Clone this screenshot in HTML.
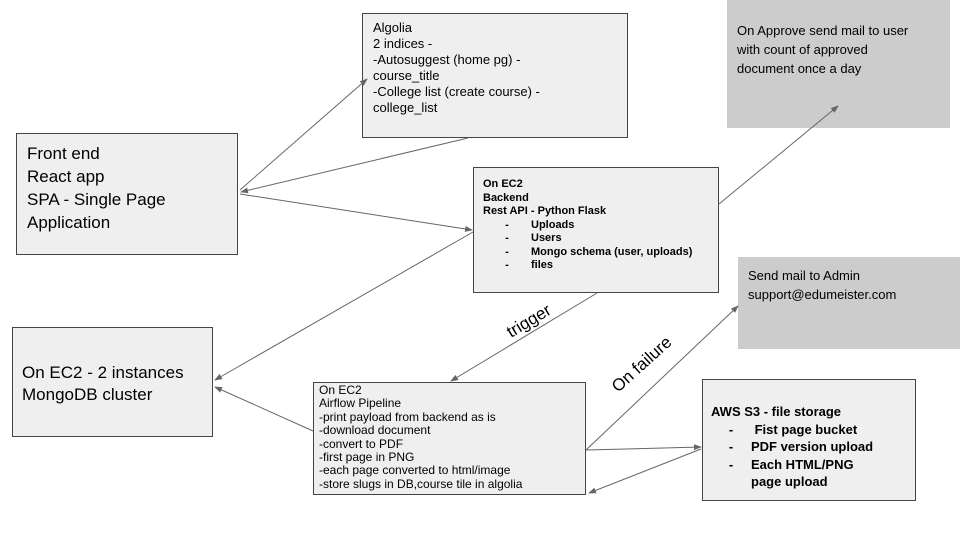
<!DOCTYPE html>
<html><head><meta charset="utf-8"><style>
body{margin:0;width:960px;height:540px;background:#fff;position:relative;overflow:hidden;font-family:"Liberation Sans",Arial,sans-serif;color:#000}
.b{position:absolute;background:#efefef;border:1px solid #444;box-sizing:border-box;white-space:nowrap}
.g{position:absolute;background:#cccccc;box-sizing:border-box}
svg{position:absolute;left:0;top:0}
</style></head><body>
<div class="b" style="left:362px;top:13px;width:266px;height:125px;font-size:13px;line-height:16px;padding:6px 0 0 10px">Algolia<br>2 indices -<br>-Autosuggest (home pg) -<br>course_title<br>-College list (create course) -<br>college_list</div>
<div class="b" style="left:16px;top:133px;width:222px;height:122px;font-size:17px;line-height:23px;padding:8px 0 0 10px">Front end<br>React app<br>SPA - Single Page<br>Application</div>
<div class="b" style="left:473px;top:167px;width:246px;height:126px;font-size:11px;line-height:13.5px;font-weight:bold;padding:10px 0 0 9px">On EC2<br>Backend<br>Rest API - Python Flask<br><span style="display:inline-block;width:48px;text-align:center">-</span>Uploads<br><span style="display:inline-block;width:48px;text-align:center">-</span>Users<br><span style="display:inline-block;width:48px;text-align:center">-</span>Mongo schema (user, uploads)<br><span style="display:inline-block;width:48px;text-align:center">-</span>files</div>
<div class="g" style="left:727px;top:0;width:223px;height:128px;font-size:13px;line-height:19px;padding:21px 0 0 10px">On Approve send mail to user<br>with count of approved<br>document once a day</div>
<div class="g" style="left:738px;top:257px;width:222px;height:92px;font-size:13px;line-height:19px;padding:9px 0 0 10px">Send mail to Admin<br>support@edumeister.com</div>
<div class="b" style="left:12px;top:327px;width:201px;height:110px;font-size:17px;line-height:22px;padding:34px 0 0 9px">On EC2 - 2 instances<br>MongoDB cluster</div>
<div class="b" style="left:313px;top:382px;width:273px;height:113px;font-size:12px;line-height:13.4px;padding:1px 0 0 5px">On EC2<br>Airflow Pipeline<br>-print payload from backend as is<br>-download document<br>-convert to PDF<br>-first page in PNG<br>-each page converted to html/image<br>-store slugs in DB,course tile in algolia</div>
<div class="b" style="left:702px;top:379px;width:214px;height:122px;font-size:13px;line-height:17.5px;font-weight:bold;padding:23px 0 0 8px">AWS S3 - file storage<br><span style="display:inline-block;width:40px;text-align:center">-</span> Fist page bucket<br><span style="display:inline-block;width:40px;text-align:center">-</span>PDF version upload<br><span style="display:inline-block;width:40px;text-align:center">-</span>Each HTML/PNG<br><span style="display:inline-block;width:40px"></span>page upload</div>
<svg width="960" height="540">
<defs><marker id="a" markerWidth="8" markerHeight="8" refX="7" refY="3" orient="auto" markerUnits="userSpaceOnUse"><path d="M0,0 L8,3 L0,6 z" fill="#666"/></marker></defs>
<g stroke="#666" stroke-width="1" fill="none">
<line x1="240" y1="190" x2="367" y2="79" marker-end="url(#a)"/>
<line x1="468" y1="138" x2="241" y2="192" marker-end="url(#a)"/>
<line x1="240" y1="194" x2="472" y2="230" marker-end="url(#a)"/>
<line x1="473" y1="232" x2="215" y2="380" marker-end="url(#a)"/>
<line x1="719" y1="204" x2="838" y2="106" marker-end="url(#a)"/>
<line x1="597" y1="293" x2="451" y2="381" marker-end="url(#a)"/>
<line x1="313" y1="431" x2="215" y2="387" marker-end="url(#a)"/>
<line x1="586" y1="450" x2="738" y2="306" marker-end="url(#a)"/>
<line x1="586" y1="450" x2="701" y2="447" marker-end="url(#a)"/>
<line x1="701" y1="449" x2="589" y2="493" marker-end="url(#a)"/>
</g>
<text x="0" y="0" font-family="Liberation Sans, Arial, sans-serif" font-size="17" transform="translate(511,338) rotate(-31)">trigger</text>
<text x="0" y="0" font-family="Liberation Sans, Arial, sans-serif" font-size="17" transform="translate(618,393) rotate(-42)">On failure</text>
</svg>
</body></html>
